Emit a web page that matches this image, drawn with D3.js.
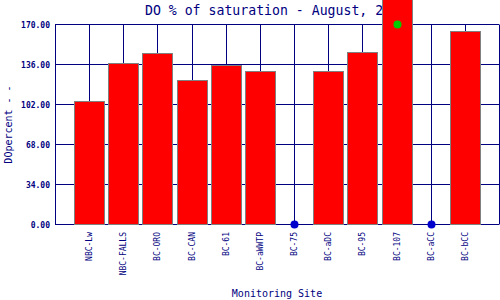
<!DOCTYPE html>
<html>
<head>
<meta charset="UTF-8">
<title>DO % of saturation</title>
<script src="https://cdn.jsdelivr.net/npm/d3@7/dist/d3.min.js"></script>
<style>
	body { margin: 0; background: #fff; }
	text { font-family: "DejaVu Sans Mono", monospace; fill: #000080; }
</style>
</head>
<body>
<svg id="chart"></svg>
<script>
// site names along the bottom
var sites = ["NBC-Lw", "NBC-FALLS", "BC-ORO", "BC-CAN", "BC-61", "BC-aWWTP",
	"BC-75", "BC-aDC", "BC-95", "BC-107", "BC-aCC", "BC-bCC"];
// DO percent, null = no sample (blue dot on the axis)
var values = [105.4, 136.9, 146.2, 123.2, 135.2, 130.6,
	null, 130.6, 147.0, 215.0, null, 164.6];
var yTicks = [0, 34, 68, 102, 136, 170];

var width = 500, height = 300;
var pLeft = 55, pRight = 499, pTop = 24.5, pBottom = 224.5;
var navy = "#000080";

var svg = d3.select("#chart").attr("width", width).attr("height", height);

var x = d3.scalePoint().domain(sites).range([pLeft, pRight]).padding(1);
var y = d3.scaleLinear().domain([0, 170]).range([pBottom, pTop]);

// title first, the tall bar is drawn over it
svg.append("text")
	.attr("x", (pLeft + pRight) / 2 - 1)
	.attr("y", 15)
	.attr("text-anchor", "middle")
	.style("font-size", "13.2px")
	.text("DO % of saturation - August, 2008");

var grid = svg.append("g").attr("stroke", navy).attr("stroke-width", 1);
grid.selectAll(".hl").data(yTicks).enter().append("line")
	.attr("x1", pLeft).attr("x2", pRight)
	.attr("y1", function(d) { return Math.floor(y(d)) + 0.5; })
	.attr("y2", function(d) { return Math.floor(y(d)) + 0.5; });
grid.selectAll(".vl").data(sites).enter().append("line")
	.attr("x1", function(d) { return Math.round(x(d)) + 0.5; })
	.attr("x2", function(d) { return Math.round(x(d)) + 0.5; })
	.attr("y1", pTop).attr("y2", pBottom);
grid.append("line").attr("x1", pLeft + 0.5).attr("x2", pLeft + 0.5).attr("y1", pTop).attr("y2", pBottom);
grid.append("line").attr("x1", pRight + 0.5).attr("x2", pRight + 0.5).attr("y1", pTop).attr("y2", pBottom);

// y tick labels
var yAxis = svg.append("g")
	.attr("transform", "translate(" + pLeft + ",0)")
	.call(d3.axisLeft(y).tickValues(yTicks).tickFormat(d3.format(".2f")).tickSize(0).tickPadding(5));
yAxis.select(".domain").remove();
yAxis.selectAll("text")
	.attr("fill", navy)
	.style("font-size", "8px")
	.style("font-weight", "bold")
	.style("font-family", "\"DejaVu Sans Mono\", monospace");

// bars
var barW = 30;
svg.append("g").selectAll("rect")
	.data(values.map(function(v, i) { return { site: sites[i], v: v }; })
		.filter(function(d) { return d.v !== null; }))
	.enter().append("rect")
	.attr("x", function(d) { return Math.round(x(d.site) - barW / 2) + 0.5; })
	.attr("y", function(d) { return Math.round(y(d.v)) + 0.5; })
	.attr("width", barW)
	.attr("height", function(d) { return Math.floor(pBottom) - Math.round(y(d.v)); })
	.attr("fill", "#ff0000")
	.attr("stroke", "#808080")
	.attr("stroke-width", 1);

// missing samples
svg.append("g").selectAll("circle")
	.data(sites.filter(function(s, i) { return values[i] === null; }))
	.enter().append("circle")
	.attr("cx", function(d) { return Math.round(x(d)) + 0.5; })
	.attr("cy", pBottom)
	.attr("r", 4)
	.attr("fill", "#0000cc");

// off-scale value marker, pinned at the top of the axis
svg.append("g").selectAll("circle")
	.data(sites.filter(function(s, i) { return values[i] !== null && values[i] > 170; }))
	.enter().append("circle")
	.attr("cx", function(d) { return Math.round(x(d)) + 0.5; })
	.attr("cy", y(170))
	.attr("r", 4)
	.attr("fill", "#00cc00");

// x tick labels, rotated
svg.append("g").selectAll("text")
	.data(sites)
	.enter().append("text")
	.attr("transform", function(d) { return "translate(" + (x(d) + 3) + "," + 232 + ") rotate(-90)"; })
	.attr("text-anchor", "end")
	.style("font-size", "8px")
	.text(function(d) { return d; });

// axis titles
svg.append("text")
	.attr("x", (pLeft + pRight) / 2)
	.attr("y", 297)
	.attr("text-anchor", "middle")
	.style("font-size", "10px")
	.text("Monitoring Site");

svg.append("text")
	.attr("transform", "translate(12," + ((pTop + pBottom) / 2) + ") rotate(-90)")
	.attr("text-anchor", "middle")
	.style("font-size", "10px")
	.text("DOpercent - -");
</script>
</body>
</html>
